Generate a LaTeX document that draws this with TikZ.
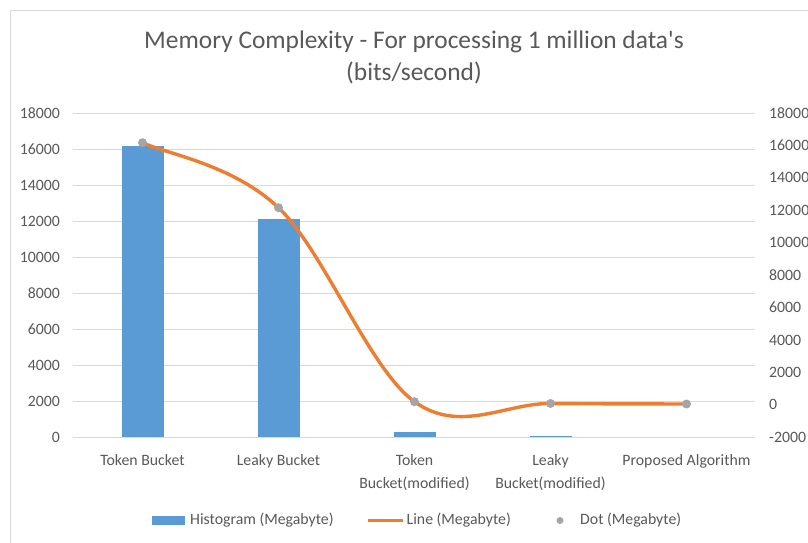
\documentclass[tikz,border=0pt]{standalone}
\usepackage{fontspec}
\setmainfont{Carlito}
\definecolor{barblue}{HTML}{5B9BD5}
\definecolor{lineorange}{HTML}{ED7D31}
\definecolor{dotgray}{HTML}{A5A5A5}
\definecolor{gridgray}{HTML}{D9D9D9}
\definecolor{txtgray}{HTML}{595959}
\begin{document}
\begin{tikzpicture}[x=1pt,y=-1pt,
  grid/.style={draw=gridgray,line width=0.9pt},
  tick/.style={font=\fontsize{15.8}{18}\selectfont,text=txtgray,inner sep=0pt},
  ltick/.style={tick,anchor=east},
  rtick/.style={tick,anchor=west},
  cat/.style={tick,anchor=north,align=center,font=\fontsize{15.8}{23}\selectfont},
  bar/.style={fill=barblue,draw=none},
  dotmark/.style={circle,fill=dotgray,draw=none,minimum size=9pt,inner sep=0pt},
  curve/.style={draw=lineorange,line width=3.4pt,line cap=round,line join=round},
  leg/.style={tick,anchor=west}]
\useasboundingbox (0,0) rectangle (808,542);
\fill[white] (0,0) rectangle (808,542);
% chart border
\draw[gridgray,line width=1pt] (10,560) -- (10,10) -- (820,10);
% title
\node[text=txtgray,font=\fontsize{25.4}{32}\selectfont,align=center,anchor=north,inner sep=0pt] (title) at (414,31)
  {Memory Complexity - For processing 1 million data\textquotesingle s\\(bits/second)};
% gridlines and left axis labels
\foreach \v [count=\i from 0] in {0,2000,4000,6000,8000,10000,12000,14000,16000,18000}{
  \draw[grid] (73,437.3-36*\i) -- (754.5,437.3-36*\i);
  \node[ltick] (l\i) at (60,437.3-36*\i) {\v};
}
% right axis labels
\foreach \v [count=\i from 0] in {-2000,0,2000,4000,6000,8000,10000,12000,14000,16000,18000}{
  \node[rtick] (r\i) at (769,437.3-32.43*\i) {\v};
}
% bars
\fill[bar] (121.5,145.7) rectangle (163.5,437.3);
\fill[bar] (257.5,218.7) rectangle (299.5,437.3);
\fill[bar] (393.5,432.3) rectangle (435.5,437.3);
\fill[bar] (529.5,435.6) rectangle (571.5,437.3);
% line points
\coordinate (p1) at (142.5,142.7);
\coordinate (p2) at (278.5,207.7);
\coordinate (p3) at (414.5,401.7);
\coordinate (p4) at (550.5,403.5);
\coordinate (p5) at (686.5,404);
\draw[curve] (p1) .. controls (165.2,153.5) and (233.2,164.5) .. (p2)
  .. controls (323.8,250.9) and (369.2,369.1) .. (p3)
  .. controls (459.8,434.3) and (505.2,403.1) .. (p4)
  .. controls (595.8,403.9) and (663.8,403.9) .. (p5);
\foreach \k in {1,...,5}{\node[dotmark] (d\k) at (p\k) {};}
% category labels
\node[cat] (c1) at (142.5,454) {Token Bucket};
\node[cat] (c2) at (278.5,454) {Leaky Bucket};
\node[cat] (c3) at (414.5,454) {Token\\Bucket(modified)};
\node[cat] (c4) at (550.5,454) {Leaky\\Bucket(modified)};
\node[cat] (c5) at (686.5,454) {Proposed Algorithm};
% legend
\fill[barblue] (152,516) rectangle (185,524.5);
\node[leg] (lg1) at (190,520.5) {Histogram (Megabyte)};
\coordinate (la) at (368,520.5);
\coordinate (lb) at (403,520.5);
\draw[draw=lineorange,line width=3.2pt] (la) -- (lb);
\node[leg] (lg2) at (406.5,520.5) {Line (Megabyte)};
\node[dotmark,minimum size=7pt] (lgdot) at (560,520.5) {};
\node[leg] (lg3) at (580,520.5) {Dot (Megabyte)};
\end{tikzpicture}
\end{document}
